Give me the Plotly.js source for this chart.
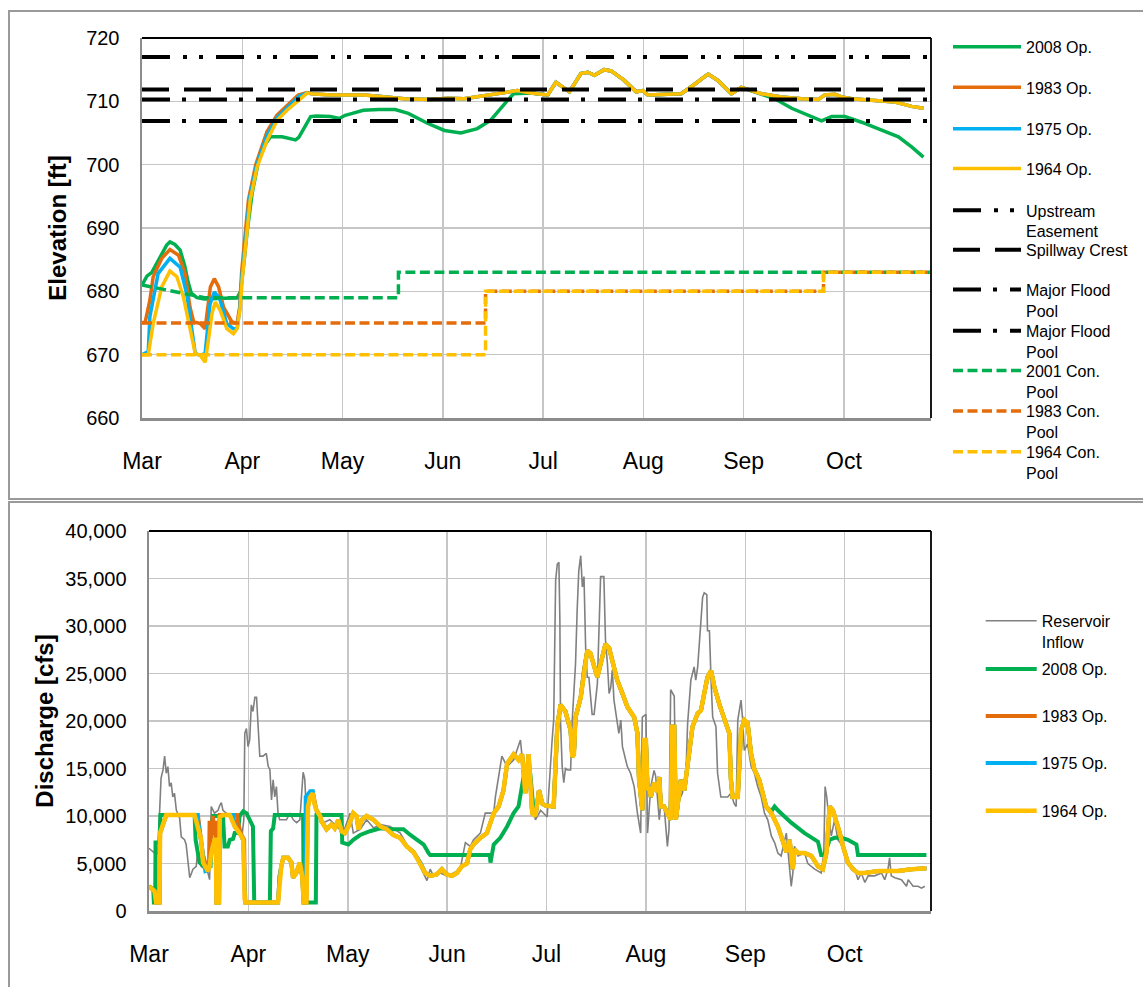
<!DOCTYPE html>
<html>
<head>
<meta charset="utf-8">
<script src="https://cdn.plot.ly/plotly-3.0.1.min.js"></script>
<style>
  html, body { margin: 0; padding: 0; background: #fff; overflow: hidden; width: 1143px; height: 987px; }
  .frame { position: absolute; left: 8px; width: 1200px; border: 2px solid #9a9a9a; box-sizing: border-box; }
  #frameTop { top: 10px; height: 490px; }
  #frameBottom { top: 501px; height: 520px; }
  .chart { position: absolute; left: 0; width: 1143px; }
  #elevChart { top: 0; height: 500px; }
  #flowChart { top: 500px; height: 487px; }
</style>
</head>
<body>
<div class="frame" id="frameTop"></div>
<div class="frame" id="frameBottom"></div>
<div class="chart" id="elevChart"></div>
<div class="chart" id="flowChart"></div>
<script>
// ---- season axis: days after 1 March, one tick per month ----
const monthTicks = [0, 30.5, 61, 91.5, 122, 152.5, 183, 213.5];
const monthLabels = ['Mar', 'Apr', 'May', 'Jun', 'Jul', 'Aug', 'Sep', 'Oct'];
const seasonEnd = 240;

// ---- pool elevations [ft], points are [day, elevation] ----
const elev2008 = [[0,681.0],[1.5,682.4],[3.0,683.0],[4.5,684.4],[6.0,686.0],[7.5,687.3],[8.5,687.8],[10.0,687.4],[11.6,686.5],[13.0,684.0],[14.0,681.5],[15.0,679.7],[16.7,679.0],[19.0,678.8],[29.0,679.0],[30.0,680.0],[31.0,684.5],[32.0,689.5],[33.5,695.5],[35.5,700.7],[37.6,703.3],[39.1,704.4],[42.6,704.4],[46.7,703.9],[47.7,704.3],[49.8,706.4],[51.3,707.6],[53.0,707.7],[57.3,707.6],[60.0,707.3],[61.8,707.8],[64.0,708.1],[67.3,708.6],[72.0,708.7],[77.0,708.7],[81.0,708.1],[87.0,706.5],[92.0,705.4],[97.0,705.0],[102.0,705.7],[106.0,707.0],[110.3,709.6],[113.0,711.2],[118.3,711.3],[123.4,711.0],[125.9,713.0],[128.4,712.0],[130.0,711.5],[133.5,714.4],[135.6,714.6],[137.6,714.1],[140.6,715.0],[142.7,714.8],[146.7,713.3],[150.3,711.5],[152.3,711.7],[153.9,711.0],[160.0,711.2],[164.0,711.2],[167.1,712.3],[172.2,714.3],[175.2,713.3],[179.3,711.2],[182.3,712.2],[188.4,711.2],[192.5,710.4],[197.6,708.9],[202.6,707.8],[206.7,706.9],[209.8,707.6],[213.8,707.6],[218.9,706.7],[225.0,705.4],[230.1,704.4],[234.1,702.8],[237.7,701.2]];

const elevSpring1983 = [[0,675.0],[1.0,675.2],[2.4,678.6],[3.4,682.3],[6.0,685.2],[8.5,686.6],[11.1,685.7],[13.1,682.8],[14.6,677.5],[15.7,675.2],[17.7,674.9],[19.2,674.1],[20.8,680.7],[22.0,682.0],[23.3,680.7],[24.8,677.5],[27.3,675.2],[28.9,674.9],[29.7,677.5],[30.3,683.0],[31.2,688.0],[32.4,694.5],[34.6,700.0],[38.0,705.2],[41.0,707.8],[44.0,709.2],[47.5,711.0],[50.2,711.4]];
const elevSpring1975 = [[0,670.0],[1.9,670.5],[2.4,676.0],[4.9,682.8],[8.5,685.2],[11.6,683.8],[13.6,679.6],[15.2,673.3],[16.2,670.2],[17.7,669.9],[19.2,670.2],[20.7,678.0],[22.0,679.9],[23.6,678.9],[25.8,674.9],[27.8,674.1],[29.0,674.3],[29.8,677.5],[30.4,682.5],[31.4,687.5],[32.6,694.4],[34.8,699.8],[38.0,704.6],[41.0,707.4],[44.0,708.9],[47.8,710.8],[50.2,711.3]];
const elevSpring1964 = [[0,670.0],[1.9,670.0],[3.4,674.9],[6.0,680.7],[8.5,683.2],[10.6,682.3],[12.6,679.1],[14.6,673.8],[16.2,670.2],[17.7,669.9],[19.2,668.8],[20.2,672.3],[21.3,676.5],[22.3,678.3],[23.8,677.0],[25.8,674.1],[27.8,673.3],[28.9,674.1],[29.9,677.5],[30.5,682.0],[31.5,687.0],[32.9,694.4],[35.0,699.6],[38.0,703.8],[41.1,707.0],[44.1,708.6],[48.2,710.4],[50.2,711.3]];
// summer and fall, shared by the 1983, 1975 and 1964 operations
const elevSummerFall = [[51.7,711.2],[57.3,711.0],[67.5,711.0],[72.0,710.8],[79.7,710.4],[87.8,710.3],[93.0,710.5],[98.0,710.4],[106.1,711.0],[114.2,711.7],[118.3,711.3],[123.4,711.0],[125.9,713.0],[128.4,712.0],[130.0,711.5],[133.5,714.4],[135.6,714.6],[137.6,714.1],[140.6,715.0],[142.7,714.8],[146.7,713.3],[150.3,711.5],[152.3,711.7],[153.9,711.0],[160.0,711.2],[164.0,711.2],[167.1,712.3],[172.2,714.3],[175.2,713.3],[179.3,711.2],[182.3,712.2],[188.4,711.2],[194.5,710.7],[200.6,710.4],[205.7,710.3],[207.7,711.0],[210.8,711.1],[212.8,710.7],[215.9,710.4],[220.9,710.2],[229.1,709.9],[234.1,709.2],[237.7,708.9]];

// fixed pool levels [ft]
const upstreamEasement = 717.0;
const spillwayCrest = 711.85;
const majorFloodPoolUpper = 710.3;
const majorFloodPoolLower = 706.9;

// conservation pools [ft]
const conPool2001 = [[0,681],[19,679],[78,679],[78,683],[seasonEnd,683]];
const conPool1983 = [[0,675],[104.5,675],[104.5,680],[207.3,680],[207.3,683],[seasonEnd,683]];
const conPool1964 = [[0,670],[104.5,670],[104.5,680],[207.3,680],[207.3,683],[seasonEnd,683]];

// ---- discharge [cfs], points are [day, cfs] ----
const reservoirInflow = [[0,6600],[1.2,6300],[1.7,6100],[2.7,6000],[3.2,10600],[3.7,14000],[4.3,14850],[4.8,16300],[5.3,14500],[5.8,15200],[6.3,13100],[6.8,13500],[7.3,12000],[7.8,12400],[8.4,10600],[9.4,9800],[9.9,7800],[10.9,7500],[11.4,7000],[12.5,3500],[13.5,4400],[14.5,4700],[15.0,6500],[16.0,4700],[17.1,4400],[18.1,4000],[18.6,3300],[19.1,11000],[20.1,10300],[21.2,10600],[21.7,11100],[22.2,11400],[22.7,10600],[23.7,10300],[25.8,10000],[27.3,8900],[28.4,7500],[29.1,9600],[29.4,18700],[29.9,19200],[30.4,17300],[30.9,18000],[31.4,21700],[31.9,21000],[32.5,22500],[33.0,22500],[33.5,19400],[34.0,16300],[35.0,16300],[36.0,16600],[36.6,15200],[37.1,14900],[37.6,11700],[38.1,13800],[38.6,12000],[39.1,13100],[39.6,10300],[40.1,9600],[42.2,9600],[43.2,10300],[44.3,9600],[45.3,9300],[46.3,9600],[47.3,14600],[47.8,13900],[48.4,9600],[48.9,11000],[49.9,12400],[51.4,10300],[52.5,10000],[53.5,9300],[55.5,9600],[57.6,8900],[59.6,8200],[61.7,10300],[62.7,8200],[64.8,8600],[66.8,9600],[68.9,8750],[71.0,9100],[74.0,8900],[77.1,8200],[79.1,7000],[81.2,6200],[83.2,4700],[85.3,3200],[86.3,4400],[87.3,3700],[89.4,4000],[91.4,3700],[93.5,4000],[95.5,4400],[97.1,7200],[98.6,6800],[99.6,7500],[101.7,8200],[103.2,10300],[105.8,10300],[106.3,12000],[108.3,16300],[109.9,15200],[111.9,15900],[114.0,18000],[115.0,14500],[116.5,13500],[117.1,13800],[118.1,10300],[118.6,9600],[120.2,10600],[121.2,10300],[122.2,9900],[123.7,17900],[124.2,20100],[124.8,34800],[125.3,36500],[125.8,36700],[126.1,30600],[126.3,20000],[126.8,15200],[127.3,13500],[127.8,15000],[128.4,14850],[129.4,14850],[129.9,20100],[130.4,22900],[130.9,26000],[131.4,31600],[131.9,35800],[132.5,37400],[133.0,34100],[133.5,35200],[134.0,27800],[134.5,24600],[135.0,24600],[136.0,20700],[136.6,20700],[137.6,23900],[138.1,29900],[138.6,35200],[139.6,35200],[140.1,28500],[140.7,26000],[141.2,22900],[141.7,23500],[142.2,25400],[142.7,22200],[143.7,20100],[144.2,18700],[144.8,20100],[145.3,17300],[146.8,15200],[147.8,14500],[148.9,13100],[149.9,10300],[150.9,8200],[151.4,20400],[152.5,20700],[153.0,8200],[154.0,13100],[155.0,14800],[155.5,14200],[156.6,9600],[157.1,11300],[158.1,11000],[159.1,6800],[159.6,8600],[160.1,23300],[161.2,22600],[161.7,12000],[162.2,11300],[163.7,12400],[164.8,14500],[165.3,19700],[166.3,24300],[167.3,25700],[167.8,24300],[168.4,25700],[169.9,33000],[170.4,33500],[171.2,33300],[171.4,29500],[172.0,29500],[172.5,24300],[173.0,20400],[174.0,19400],[174.5,14500],[175.5,12000],[177.6,12000],[178.6,12400],[179.6,11300],[180.2,11000],[180.7,20100],[181.7,22200],[182.2,20100],[182.7,16900],[183.7,17600],[184.8,15200],[185.8,14500],[186.8,13100],[187.9,12000],[188.9,10300],[189.9,9600],[191.0,7900],[192.0,7200],[193.0,6100],[194.0,5800],[195.6,8200],[196.1,6100],[197.1,2600],[197.6,4000],[198.1,6800],[199.2,5800],[201.2,6100],[202.2,5000],[204.3,4400],[206.3,4000],[207.1,6100],[207.5,13100],[208.0,12000],[208.7,9600],[209.4,7900],[210.4,9600],[211.4,7500],[213.0,6800],[214.0,5400],[215.0,4700],[216.6,4400],[217.6,3300],[218.6,4000],[219.7,3000],[220.7,3700],[222.7,3700],[224.8,4000],[225.8,3300],[226.8,4400],[227.3,5600],[227.8,3700],[228.9,3500],[230.9,3300],[232.5,2600],[233.0,3300],[234.5,2600],[236.0,2600],[237.1,2400],[238.1,2600]];

const release2008 = [[0,2600],[1.3,2300],[1.5,900],[1.9,900],[2.0,7200],[3.2,7200],[3.5,10100],[14.0,10100],[14.3,7500],[15.5,5100],[16.5,4800],[18.0,4600],[18.9,4700],[19.1,8600],[19.6,10000],[22.7,10000],[23.2,6800],[24.2,6800],[24.8,7500],[25.8,7600],[26.3,8200],[27.3,8200],[27.8,10000],[28.9,10500],[29.9,10300],[30.9,9600],[31.9,8900],[32.3,900],[37.1,900],[37.4,8400],[38.1,8700],[38.6,10100],[47.3,10100],[47.5,900],[51.2,900],[51.4,10100],[59.1,10100],[59.3,7200],[61.2,7000],[62.7,7500],[64.8,8000],[67.8,8400],[71.0,8700],[75.0,8600],[78.1,8600],[80.2,8000],[82.2,7500],[84.3,7000],[85.8,6100],[86.3,5900],[104.6,5900],[104.8,5100],[105.8,7000],[107.8,7700],[109.9,8900],[111.9,10300],[113.4,11000],[115.0,14200],[116.0,13700],[117.0,14500],[118.1,10300],[118.6,10000],[119.7,12700],[120.7,11300],[121.7,11100],[124.2,11000],[125.3,19400],[126.3,21700],[127.8,21000],[129.4,19000],[129.9,16200],[130.4,16500],[130.9,20400],[132.5,22500],[133.5,25300],[134.5,27400],[135.5,27100],[136.6,25700],[137.6,24600],[138.6,26000],[140.1,28100],[141.2,27700],[142.7,25700],[143.7,24300],[145.3,22900],[146.8,21500],[148.9,20400],[149.9,18700],[150.4,13800],[150.9,12000],[151.4,10600],[152.0,18000],[152.5,18000],[153.0,12700],[153.5,13100],[154.0,12000],[155.0,13500],[156.0,12500],[156.6,14100],[157.1,11000],[158.1,11000],[159.1,10300],[160.1,9600],[160.6,19400],[161.2,19400],[161.7,9600],[162.7,13100],[163.2,13800],[164.3,12700],[165.8,16900],[166.8,19400],[168.4,20800],[169.4,21100],[170.4,22900],[171.4,24600],[172.5,25300],[173.5,23600],[175.0,21800],[176.6,20100],[178.1,18700],[178.6,13800],[179.1,12000],[180.7,12000],[181.7,19000],[182.7,20100],[183.7,19800],[184.8,16500],[185.8,14900],[187.3,13800],[188.4,12400],[189.4,11000],[191.0,10500],[192.0,11000],[193.0,10600],[197.1,9300],[201.2,8200],[205.3,7300],[206.3,5900],[207.3,5900],[208.9,7500],[210.4,7700],[212.5,7700],[214.5,7500],[217.1,7000],[217.6,5900],[238.6,5900]];

const releaseSpring1983 = [[0,2600],[1.7,2100],[2.2,900],[3.2,900],[3.4,8200],[4.3,9100],[5.3,10100],[15.0,10100],[15.5,8500],[16.5,6000],[17.6,4600],[18.4,4400],[18.6,9500],[19.1,7500],[19.6,10000],[20.1,8000],[20.5,9500],[20.7,900],[21.5,900],[21.7,10100],[27.0,10100],[27.5,9000],[28.4,8000],[29.2,7500],[29.4,1250],[29.6,900],[39.6,900],[40.1,3700],[40.6,4700],[41.2,5600],[42.7,5600],[43.7,5100],[44.2,3500],[45.2,4000],[46.3,5100],[47.0,3700],[47.5,900],[48.3,900],[48.8,11000],[49.5,12000],[50.3,12400],[50.8,11300],[51.4,10600],[52.5,10000]];
const releaseSpring1975 = [[0,2600],[1.7,2100],[2.2,900],[3.2,900],[3.4,8200],[4.3,9100],[5.3,10100],[14.8,10100],[15.5,8500],[16.3,6000],[17.3,4200],[18.1,4300],[18.6,4700],[19.1,6100],[20.1,7500],[20.5,7500],[20.7,900],[21.5,900],[21.7,9900],[22.7,10100],[25.8,10100],[26.3,8900],[27.8,8200],[28.9,7500],[29.4,1250],[29.6,900],[39.6,900],[40.1,3700],[40.6,4700],[41.2,5600],[42.7,5600],[43.7,5100],[44.2,3500],[45.2,4000],[46.3,5100],[47.0,3700],[47.5,900],[47.9,900],[48.1,12000],[49.5,12600],[50.3,12600],[50.8,11300],[51.4,10600],[52.5,10000]];
const releaseSpring1964 = [[0,2600],[1.7,2100],[2.2,900],[3.2,900],[3.4,8200],[4.3,9100],[5.3,10100],[14.0,10100],[14.5,9400],[16.0,7500],[16.6,5100],[17.6,4400],[18.1,4200],[18.6,4700],[19.1,6100],[20.1,7500],[20.5,7500],[20.7,900],[21.5,900],[21.7,9900],[22.7,10100],[24.8,10100],[25.7,9400],[26.3,8900],[27.8,8200],[28.9,7500],[29.4,1250],[29.6,900],[39.6,900],[40.1,3700],[40.6,4700],[41.2,5600],[42.7,5600],[43.7,5100],[44.2,3500],[45.2,4000],[46.3,5100],[47.0,3700],[47.5,900],[48.3,900],[48.8,11000],[49.5,12000],[50.3,12400],[50.8,11300],[51.4,10600],[52.5,10000]];
// summer and fall, shared by the 1983, 1975 and 1964 operations
const releaseSummerFall = [[53.0,9400],[54.5,8600],[56.0,9100],[57.0,8700],[58.1,9600],[59.1,8400],[60.1,8200],[61.2,8900],[62.7,10300],[63.7,10000],[64.3,8600],[65.3,9600],[66.8,10000],[68.9,9600],[71.0,8900],[73.0,8600],[75.0,8000],[77.1,7700],[79.1,6800],[81.2,6200],[83.2,5100],[84.8,4000],[86.3,3700],[88.3,3850],[89.9,4400],[91.4,3850],[93.0,3700],[94.5,4000],[96.0,4700],[97.6,5000],[98.6,6500],[99.6,7000],[101.7,7700],[103.7,8200],[105.8,10300],[107.3,11000],[108.8,12700],[109.9,15500],[111.9,16500],[113.4,15900],[114.5,16500],[115.5,12400],[116.5,16500],[117.6,10300],[118.6,10000],[119.7,12700],[120.7,11300],[121.7,11100],[124.2,11000],[125.3,19400],[126.3,21700],[127.8,21000],[129.4,19000],[129.9,16200],[130.4,16500],[130.9,20400],[132.5,22500],[133.5,25300],[134.5,27400],[135.5,27100],[136.6,25700],[137.6,24600],[138.6,26000],[140.1,28100],[141.2,27700],[142.7,25700],[143.7,24300],[145.3,22900],[146.8,21500],[148.9,20400],[149.9,18700],[150.4,13800],[150.9,12000],[151.4,10600],[152.0,18000],[152.5,18000],[153.0,12700],[153.5,13100],[154.0,12000],[155.0,13500],[156.0,12500],[156.6,14100],[157.1,11000],[158.1,11000],[159.1,10300],[160.1,9600],[160.6,19400],[161.2,19400],[161.7,9600],[162.7,13100],[163.2,13800],[164.3,12700],[165.8,16900],[166.8,19400],[168.4,20800],[169.4,21100],[170.4,22900],[171.4,24600],[172.5,25300],[173.5,23600],[175.0,21800],[176.6,20100],[178.1,18700],[178.6,13800],[179.1,12000],[180.7,12000],[181.7,19000],[182.7,20100],[183.7,19800],[184.8,16500],[185.8,14900],[187.3,13800],[188.4,12400],[189.4,11000],[191.0,10300],[193.0,8900],[194.0,7900],[195.6,6200],[196.6,7500],[197.6,4400],[198.1,6500],[199.2,6100],[201.2,6100],[203.3,5800],[205.3,4700],[206.8,4400],[207.9,6100],[208.9,11000],[209.9,10600],[210.9,9600],[212.0,8200],[213.0,6800],[214.5,5100],[216.1,4400],[217.6,4000],[219.7,4000],[223.8,4200],[229.9,4200],[234.0,4400],[238.6,4500]];

// ---- styling ----
const FONT = '"Liberation Sans", Arial, Helvetica, sans-serif';
const C = { green: '#00B050', orange: '#E46C0A', blue: '#00B0F0', yellow: '#FFC000', gray: '#808080', black: '#000000' };
const DASH = {
  upstream: '28px,13px,4px,12px,4px,13px',
  spillway: '27px,15px',
  major: '28px,12px,4px,13px',
  pool: '10px,4.5px'
};

const xs = pts => pts.map(p => p[0]);
const ys = pts => pts.map(p => p[1]);
const legendKey = i => (i === 0 ? 'legend' : 'legend' + (i + 1));

function line(pts, name, color, width, dash) {
  return {
    type: 'scatter', mode: 'lines', name: name,
    x: xs(pts), y: ys(pts),
    line: { color: color, width: width, dash: dash || 'solid' },
    hoverinfo: 'skip'
  };
}
function level(value, name, color, width, dash) {
  const span = [0, seasonEnd];
  return line(span.map(d => [d, value]), name, color, width, dash);
}

// every legend entry gets its own legend box so that the rows can be spaced freely
function placeLegends(traces, rowsY, left, itemWidth, figW, figH) {
  const out = {};
  traces.forEach((t, i) => {
    const key = legendKey(i);
    t.legend = key;
    out[key] = {
      xref: 'container', yref: 'container',
      x: left / figW, xanchor: 'left',
      y: 1 - (rowsY[i] - 16.9) / figH, yanchor: 'top',
      bgcolor: 'rgba(0,0,0,0)', borderwidth: 0,
      itemwidth: itemWidth, valign: 'top',
      font: { family: FONT, size: 16, color: '#000' }
    };
  });
  return out;
}

function axisX() {
  return {
    range: [0, seasonEnd], tickmode: 'array', tickvals: monthTicks, ticktext: monthLabels,
    showgrid: true, gridcolor: '#c6c6c6', gridwidth: 1.5,
    showline: true, linecolor: '#8c8c8c', linewidth: 2.5,
    ticks: 'outside', ticklen: 21, tickcolor: 'rgba(0,0,0,0)',
    tickfont: { family: FONT, size: 23, color: '#000' },
    zeroline: false, fixedrange: true
  };
}
function axisY(range, dtick, fmt, title, standoff) {
  return {
    range: range, tickmode: 'linear', tick0: range[0], dtick: dtick, tickformat: fmt,
    showgrid: true, gridcolor: '#c6c6c6', gridwidth: 1.5,
    showline: true, linecolor: '#8c8c8c', linewidth: 2.5,
    ticks: 'outside', ticklen: 16, tickcolor: 'rgba(0,0,0,0)',
    tickfont: { family: FONT, size: 20, color: '#000' },
    zeroline: false, fixedrange: true,
    title: { text: '<b>' + title + '</b>', font: { family: FONT, size: 24, color: '#000' }, standoff: standoff }
  };
}
function frameShapes() {
  return [
    { type: 'line', xref: 'paper', yref: 'paper', x0: 0, x1: 1, y0: 1, y1: 1, line: { color: '#000', width: 1.8 } },
    { type: 'line', xref: 'paper', yref: 'paper', x0: 1, x1: 1, y0: 0, y1: 1, line: { color: '#000', width: 1.8 } }
  ];
}

// ---- elevation chart ----
const W = 1143;
const elevH = 500;
const elevTraces = [
  line(elev2008, '2008 Op.', C.green, 3.5),
  line(elevSpring1983.concat(elevSummerFall), '1983 Op.', C.orange, 3.5),
  line(elevSpring1975.concat(elevSummerFall), '1975 Op.', C.blue, 3.5),
  line(elevSpring1964.concat(elevSummerFall), '1964 Op.', C.yellow, 3.5),
  level(upstreamEasement, 'Upstream<br>Easement', C.black, 4, DASH.upstream),
  level(spillwayCrest, 'Spillway Crest', C.black, 4, DASH.spillway),
  level(majorFloodPoolUpper, 'Major Flood<br>Pool', C.black, 4, DASH.major),
  level(majorFloodPoolLower, 'Major Flood<br>Pool', C.black, 4, DASH.major),
  line(conPool2001, '2001 Con.<br>Pool', C.green, 3.5, DASH.pool),
  line(conPool1983, '1983 Con.<br>Pool', C.orange, 3.5, DASH.pool),
  line(conPool1964, '1964 Con.<br>Pool', C.yellow, 3.5, DASH.pool)
];
const elevRows = [46.7, 87.3, 128.7, 168.5, 210.3, 249.7, 289.5, 330.7, 370.5, 411, 451.7];
const elevLayout = Object.assign({
  width: W, height: elevH,
  margin: { l: 142, r: W - 931, t: 38, b: elevH - 418 },
  paper_bgcolor: 'rgba(0,0,0,0)', plot_bgcolor: '#ffffff',
  hovermode: false, showlegend: true,
  xaxis: axisX(),
  yaxis: axisY([660, 720], 10, '', 'Elevation [ft]', 13),
  shapes: frameShapes()
}, placeLegends(elevTraces, elevRows, 948, 68, W, elevH));

// ---- discharge chart ----
const flowH = 487;
const flowTraces = [
  line(reservoirInflow, 'Reservoir<br>Inflow', C.gray, 1.6),
  line(release2008, '2008 Op.', C.green, 4),
  line(releaseSpring1983.concat(releaseSummerFall), '1983 Op.', C.orange, 4),
  line(releaseSpring1975.concat(releaseSummerFall), '1975 Op.', C.blue, 4),
  line(releaseSpring1964.concat(releaseSummerFall), '1964 Op.', C.yellow, 4.5)
];
const flowRows = [120.7, 169, 216, 263, 310.7];
const flowLayout = Object.assign({
  width: W, height: flowH,
  margin: { l: 149, r: W - 931, t: 31, b: 76 },
  paper_bgcolor: 'rgba(0,0,0,0)', plot_bgcolor: '#ffffff',
  hovermode: false, showlegend: true,
  xaxis: axisX(),
  yaxis: axisY([0, 40000], 5000, ',d', 'Discharge [cfs]', 5),
  shapes: frameShapes()
}, placeLegends(flowTraces, flowRows, 980.7, 51, W, flowH));

const config = { staticPlot: true, displayModeBar: false };
Plotly.newPlot('elevChart', elevTraces, elevLayout, config);
Plotly.newPlot('flowChart', flowTraces, flowLayout, config);
</script>
</body>
</html>
